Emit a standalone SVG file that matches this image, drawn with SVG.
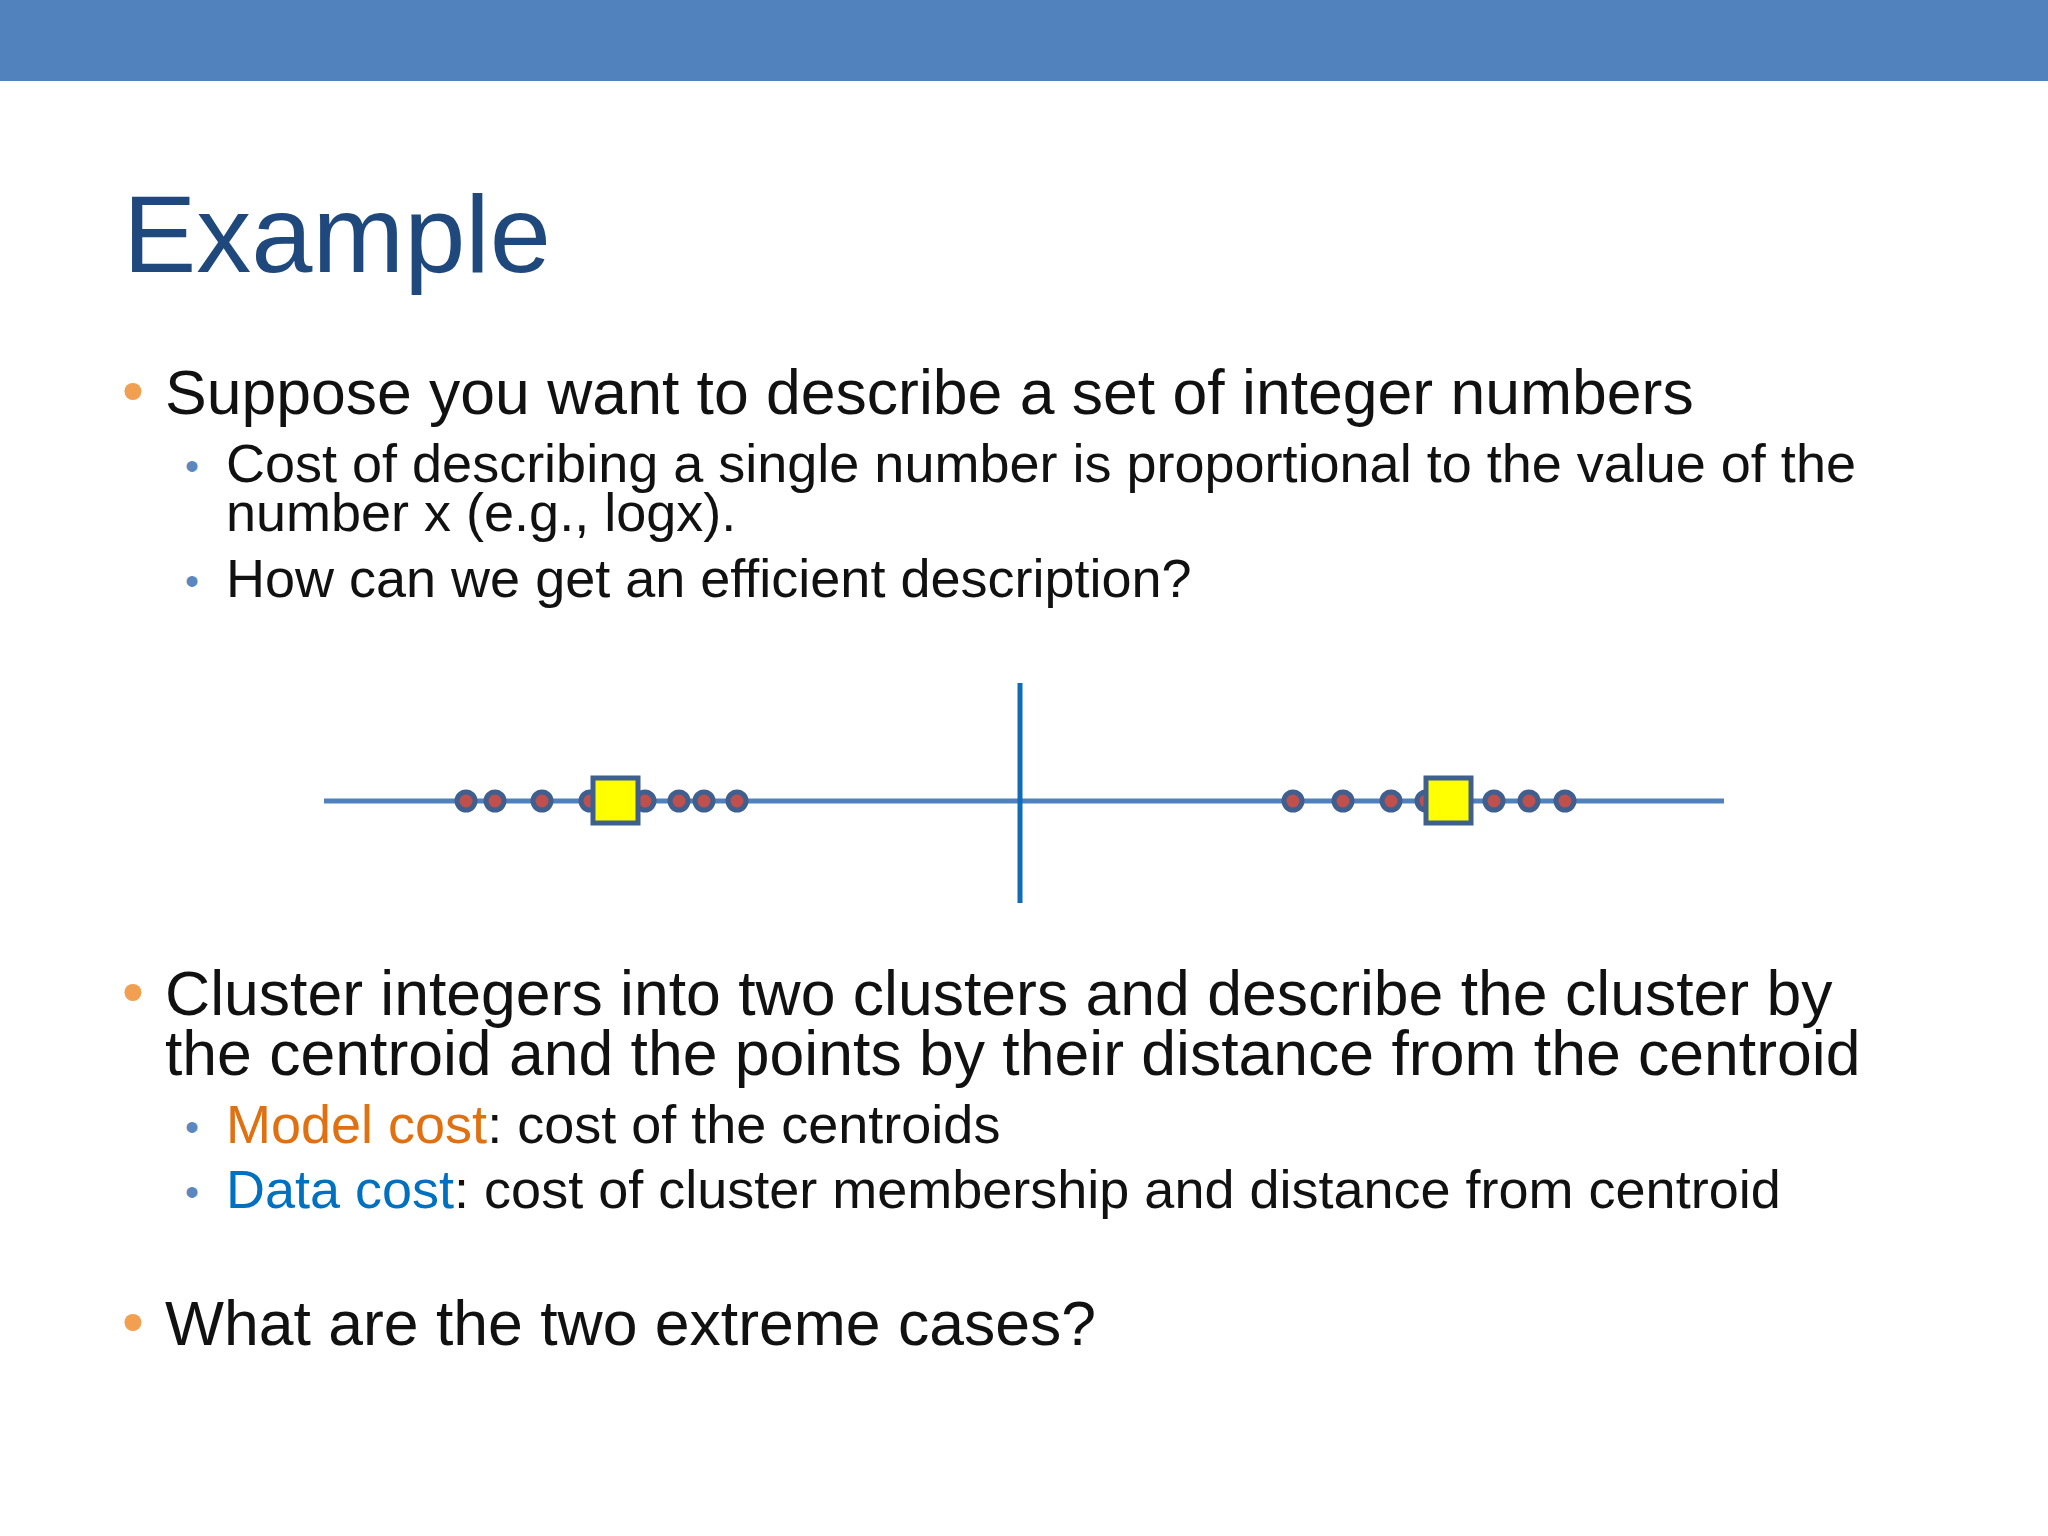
<svg xmlns="http://www.w3.org/2000/svg" width="2048" height="1536" viewBox="0 0 2048 1536">
<style>
text{font-family:"Liberation Sans",Arial,sans-serif;fill:#111}
.b1{font-size:62.5px}
.b2{font-size:54px}
.o{fill:#F0A050}
.s{fill:#5B87C0}
.pt{fill:#C0504D;stroke:#3F5F8F;stroke-width:5}
.sq{fill:#FFFF00;stroke:#3F5F8F;stroke-width:5}
</style>
<rect width="2048" height="1536" fill="#fff"/>
<rect width="2048" height="81" fill="#5182BD"/>
<text x="123" y="272" style="font-size:110px;fill:#1F497D">Example</text>
<g id="text">
<text x="122" y="412" class="b1 o">•</text>
<text x="165" y="414" class="b1">Suppose you want to describe a set of integer numbers</text>
<text x="185" y="480" class="b2 s" style="font-size:40px">•</text>
<text x="226" y="482" class="b2">Cost of describing a single number is proportional to the value of the</text>
<text x="226" y="531" class="b2">number x (e.g., logx).</text>
<text x="185" y="595" class="b2 s" style="font-size:40px">•</text>
<text x="226" y="597" class="b2">How can we get an efficient description?</text>
<text x="122" y="1013" class="b1 o">•</text>
<text x="165" y="1015" class="b1">Cluster integers into two clusters and describe the cluster by</text>
<text x="165" y="1075" class="b1">the centroid and the points by their distance from the centroid</text>
<text x="185" y="1141" class="b2 s" style="font-size:40px">•</text>
<text x="226" y="1143" class="b2"><tspan style="fill:#E07010">Model cost</tspan>: cost of the centroids</text>
<text x="185" y="1206" class="b2 s" style="font-size:40px">•</text>
<text x="226" y="1208" class="b2"><tspan style="fill:#0070C0">Data cost</tspan>: cost of cluster membership and distance from centroid</text>
<text x="122" y="1343" class="b1 o">•</text>
<text x="165" y="1345" class="b1">What are the two extreme cases?</text>
</g>
<g id="connectors">
<line x1="324" y1="801" x2="1724" y2="801" stroke="#4F81BD" stroke-width="5"/>
<line x1="1020" y1="683" x2="1020" y2="903" stroke="#0F6CB8" stroke-width="5"/>
</g>
<g id="points">
<circle class="pt" cx="466" cy="801" r="9"/>
<circle class="pt" cx="495" cy="801" r="9"/>
<circle class="pt" cx="542" cy="801" r="9"/>
<circle class="pt" cx="590" cy="801" r="9"/>
<circle class="pt" cx="645" cy="801" r="9"/>
<circle class="pt" cx="679" cy="801" r="9"/>
<circle class="pt" cx="704" cy="801" r="9"/>
<circle class="pt" cx="737" cy="801" r="9"/>
<circle class="pt" cx="1293" cy="801" r="9"/>
<circle class="pt" cx="1343" cy="801" r="9"/>
<circle class="pt" cx="1391" cy="801" r="9"/>
<circle class="pt" cx="1426" cy="801" r="9"/>
<circle class="pt" cx="1494" cy="801" r="9"/>
<circle class="pt" cx="1529" cy="801" r="9"/>
<circle class="pt" cx="1565" cy="801" r="9"/>
</g>
<g id="centroid1"><rect class="sq" x="593" y="778" width="45" height="45"/></g>
<g id="centroid2"><rect class="sq" x="1426" y="778" width="45" height="45"/></g>
</svg>
